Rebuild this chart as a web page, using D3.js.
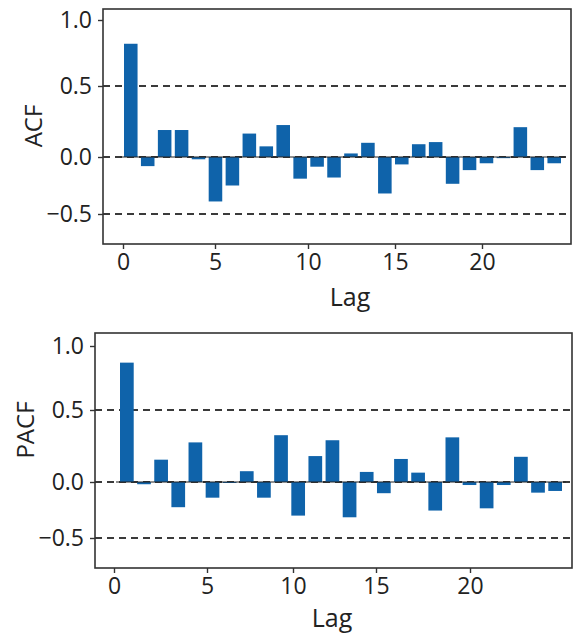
<!DOCTYPE html>
<html>
<head>
<meta charset="utf-8">
<script src="https://cdn.jsdelivr.net/npm/d3@7"></script>
<style>
  body { margin: 0; background: #fff; }
  svg { display: block; }
  .tick text { font-family: "Open Sans", sans-serif; fill: #222; }
  .label { font-family: "Open Sans", sans-serif; fill: #222; }
</style>
</head>
<body>
<div id="chart"></div>
<script>
// ACF and PACF values, lags 0..25
var acfValues = [0.82, -0.08, 0.19, 0.19, -0.02, -0.39, -0.25, 0.165, 0.075, 0.225,
                 -0.19, -0.085, -0.18, 0.025, 0.10, -0.32, -0.065, 0.09, 0.105, -0.235,
                 -0.115, -0.055, -0.01, 0.21, -0.115, -0.055];
var pacfValues = [0.87, -0.02, 0.155, -0.225, 0.275, -0.14, 0.0, 0.075, -0.14, 0.325,
                  -0.30, 0.18, 0.29, -0.315, 0.07, -0.10, 0.16, 0.065, -0.255, 0.31,
                  -0.027, -0.235, -0.027, 0.175, -0.095, -0.08];
var lagTicks = [0, 5, 10, 15, 20];
var corrTicks = [-0.5, 0, 0.5, 1.0];
var bandLevels = [-0.5, 0, 0.5];

var width = 573, height = 636;
var barColor = "#0f63aa";

var svg = d3.select("#chart")
	.append("svg")
	  .attr("width", width)
	  .attr("height", height);

// page geometry for the two panels (the source is a photo, so ticks are uneven)
var panels = [
	{ values: acfValues, name: "ACF",
	  box: {left: 103, right: 571, top: 9, bottom: 244},
	  yPx: [214, 157, 86, 20], xPx: [123, 215, 308, 395, 482],
	  barRange: [124, 561], yName: {x: 34, y: 126}, xName: {x: 350, y: 306} },
	{ values: pacfValues, name: "PACF",
	  box: {left: 95, right: 572, top: 333, bottom: 568},
	  yPx: [538, 482, 410, 346], xPx: [114, 207, 293, 376, 470],
	  barRange: [120, 562], yName: {x: 26, y: 430}, xName: {x: 332, y: 627} }
];

panels.forEach(function(p) {
	var g = svg.append("g");

	var y = d3.scaleLinear().domain(corrTicks).range(p.yPx);
	var x = d3.scaleLinear().domain(lagTicks).range(p.xPx);
	var xb = d3.scaleBand()
		.domain(d3.range(p.values.length))
		.range(p.barRange)
		.paddingInner(0.2);

	// dashed reference lines
	g.selectAll(".ref")
		.data(bandLevels)
	  .enter().append("line")
		.attr("x1", p.box.left)
		.attr("x2", p.box.right)
		.attr("y1", function(d) { return y(d); })
		.attr("y2", function(d) { return y(d); })
		.attr("stroke", "#3a3a3a")
		.attr("stroke-width", 1.8)
		.attr("stroke-dasharray", "7,5");

	// bars
	g.selectAll(".bar")
		.data(p.values)
	  .enter().append("rect")
		.attr("x", function(d, i) { return xb(i); })
		.attr("width", xb.bandwidth())
		.attr("y", function(d) { return Math.min(y(d), y(0)); })
		.attr("height", function(d) { return Math.max(1, Math.abs(y(d) - y(0))); })
		.attr("fill", barColor);

	// solid zero line through the bars
	g.append("line")
		.attr("x1", p.barRange[0] - 4)
		.attr("x2", p.barRange[1] + 4)
		.attr("y1", y(0))
		.attr("y2", y(0))
		.attr("stroke", "#222")
		.attr("stroke-width", 1);

	// frame
	g.append("rect")
		.attr("x", p.box.left)
		.attr("y", p.box.top)
		.attr("width", p.box.right - p.box.left)
		.attr("height", p.box.bottom - p.box.top)
		.attr("fill", "none")
		.attr("stroke", "#333")
		.attr("stroke-width", 1.6);

	var yAxis = g.append("g")
		.attr("transform", "translate(" + p.box.left + ",0)")
		.call(d3.axisLeft(y).tickValues(corrTicks).tickFormat(d3.format(".1f"))
			.tickSize(5).tickPadding(6));
	var xAxis = g.append("g")
		.attr("transform", "translate(0," + p.box.bottom + ")")
		.call(d3.axisBottom(x).tickValues(lagTicks).tickFormat(d3.format("d"))
			.tickSize(5).tickPadding(5));

	[yAxis, xAxis].forEach(function(a) {
		a.select(".domain").remove();
		a.selectAll(".tick line").attr("stroke", "#333").attr("stroke-width", 1.4);
		a.selectAll(".tick text").style("font-size", "23px");
	});

	g.append("text")
		.attr("class", "label")
		.attr("transform", "translate(" + p.yName.x + "," + p.yName.y + ") rotate(-90)")
		.attr("text-anchor", "middle")
		.attr("dy", "0.35em")
		.style("font-size", "24px")
		.text(p.name);

	g.append("text")
		.attr("class", "label")
		.attr("x", p.xName.x)
		.attr("y", p.xName.y)
		.attr("text-anchor", "middle")
		.style("font-size", "25px")
		.text("Lag");
});
</script>
</body>
</html>
